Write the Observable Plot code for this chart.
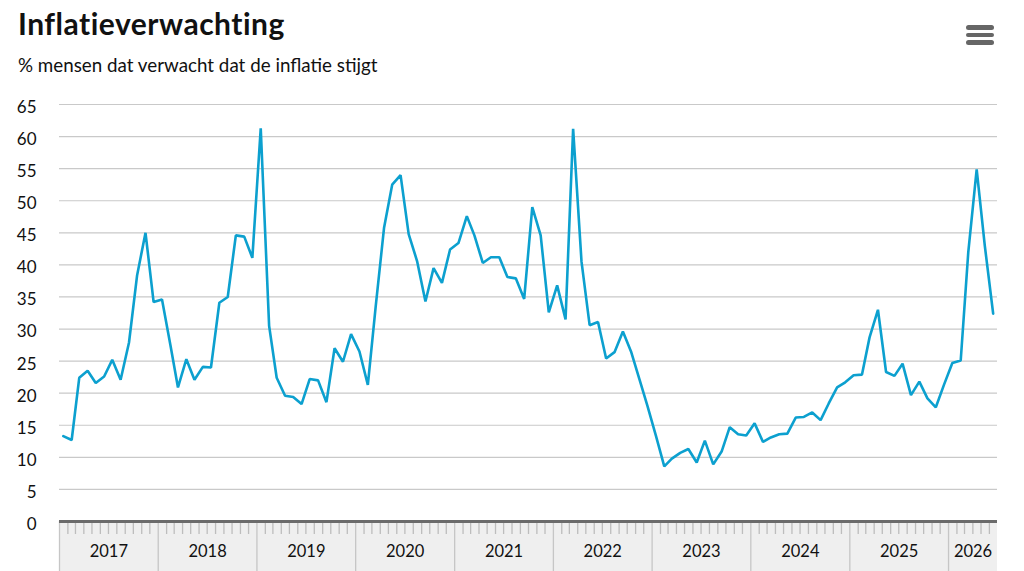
<!DOCTYPE html>
<html>
<head>
<meta charset="utf-8">
<script src="https://cdn.jsdelivr.net/npm/d3@7"></script>
<script src="https://cdn.jsdelivr.net/npm/@observablehq/plot@0.6"></script>
<style>
  html, body { margin: 0; padding: 0; background: #fff; }
  #header { position: relative; width: 1024px; height: 88px; font-family: Lato, "Noto Sans", sans-serif; color: #111; }
  #title { position: absolute; left: 18px; top: 8px; font-size: 30px; line-height: 30px; font-weight: 700; letter-spacing: 0.5px; white-space: nowrap; }
  #subtitle { position: absolute; left: 18px; top: 56px; font-size: 18.8px; line-height: 18.8px; white-space: nowrap; }
  #menu { position: absolute; left: 966px; top: 25px; width: 28px; }
  #menu div { height: 4.5px; background: #666; border-radius: 2.5px; margin-bottom: 3px; }
</style>
</head>
<body>
<div id="header">
  <div id="title">Inflatieverwachting</div>
  <div id="subtitle">% mensen dat verwacht dat de inflatie stijgt</div>
  <div id="menu"><div></div><div></div><div></div></div>
</div>
<div id="chart"></div>
<script>
// % mensen dat verwacht dat de inflatie stijgt, monthly from January 2017 to June 2026
const startYear = 2017;
const values = [
  // 2017
  13.3, 12.7, 22.4, 23.5, 21.6, 22.6, 25.2, 22.1, 27.9, 38.4, 45.0, 34.2,
  // 2018
  34.6, 27.5, 20.9, 25.3, 22.1, 24.1, 24.0, 34.1, 35.0, 44.6, 44.4, 41.1,
  // 2019
  61.3, 30.5, 22.4, 19.6, 19.4, 18.3, 22.2, 22.0, 18.6, 27.0, 24.9, 29.2,
  // 2020
  26.5, 21.3, 33.5, 45.8, 52.5, 54.0, 44.8, 40.6, 34.3, 39.5, 37.2, 42.4,
  // 2021
  43.4, 47.6, 44.6, 40.3, 41.2, 41.2, 38.1, 37.9, 34.7, 49.0, 44.6, 32.6,
  // 2022
  36.8, 31.5, 61.2, 40.5, 30.6, 31.1, 25.4, 26.4, 29.6, 26.5, 22.2, 18.0,
  // 2023
  13.4, 8.6, 9.8, 10.7, 11.3, 9.2, 12.6, 8.9, 10.9, 14.7, 13.6, 13.4,
  // 2024
  15.3, 12.4, 13.1, 13.6, 13.7, 16.2, 16.3, 17.0, 15.8, 18.4, 20.9, 21.7,
  // 2025
  22.8, 22.9, 28.7, 33.0, 23.3, 22.7, 24.6, 19.7, 21.8, 19.2, 17.8, 21.3,
  // 2026
  24.7, 25.1, 42.0, 54.9, 43.0, 32.4
];
const yearLabels = ["2017", "2018", "2019", "2020", "2021", "2022", "2023", "2024", "2025", "2026"];
const yTicks = [0, 5, 10, 15, 20, 25, 30, 35, 40, 45, 50, 55, 60, 65];

const data = values.map((v, i) => ({
  date: new Date(Date.UTC(startYear, i, 15)),
  value: v
}));

const xStart = new Date(Date.UTC(startYear, 0, 1));
const xEnd = new Date(Date.UTC(startYear, values.length, 1));

const monthTicks = d3.utcMonth.range(xStart, xEnd).filter(d => d.getUTCMonth() !== 0);
const yearStarts = yearLabels.map(y => new Date(Date.UTC(+y, 0, 1)));
const yearMids = yearLabels.map(y => {
  const a = new Date(Date.UTC(+y, 0, 1));
  const b = new Date(Math.min(Date.UTC(+y + 1, 0, 1), +xEnd));
  return {label: y, date: new Date((+a + +b) / 2)};
});

// background band of the time axis
function axisBand(index, scales, values, dims) {
  const r = document.createElementNS("http://www.w3.org/2000/svg", "rect");
  const x0 = scales.x(xStart), x1 = scales.x(xEnd);
  r.setAttribute("x", x0);
  r.setAttribute("width", x1 - x0);
  r.setAttribute("y", dims.height - dims.marginBottom);
  r.setAttribute("height", dims.marginBottom);
  r.setAttribute("fill", "#efefef");
  return r;
}

const chart = Plot.plot({
  width: 1024,
  height: 483,
  marginLeft: 59,
  marginRight: 27,
  marginTop: 16,
  marginBottom: 50,
  style: {fontFamily: "Lato, 'Noto Sans', sans-serif", fontSize: "16px", color: "#111", background: "#fff"},
  x: {type: "utc", domain: [xStart, xEnd]},
  y: {domain: [0, 65]},
  marks: [
    axisBand,
    Plot.ruleY(yTicks, {stroke: "#c9c9c9", strokeWidth: 1.2}),
    Plot.axisY({ticks: yTicks, tickSize: 0, tickPadding: 23, label: null, dy: 3, fontSize: 17, fill: "#111"}),
    Plot.axisX({ticks: monthTicks, tickSize: 13, tickFormat: () => "", stroke: "#bdbdbd", strokeWidth: 1.3, label: null}),
    Plot.axisX({ticks: yearStarts, tickSize: 50, tickFormat: () => "", stroke: "#c6c6c6", strokeWidth: 1.3, label: null}),
    Plot.text(yearMids, {x: "date", text: "label", frameAnchor: "bottom", lineAnchor: "middle", dy: 30, fontSize: 16.5, fill: "#111"}),
    Plot.ruleY([0], {stroke: "#6b6b6b", strokeWidth: 3}),
    Plot.line(data, {x: "date", y: "value", stroke: "#0ca0cf", strokeWidth: 2.6, strokeLinejoin: "miter"})
  ]
});
document.getElementById("chart").appendChild(chart);
</script>
</body>
</html>
